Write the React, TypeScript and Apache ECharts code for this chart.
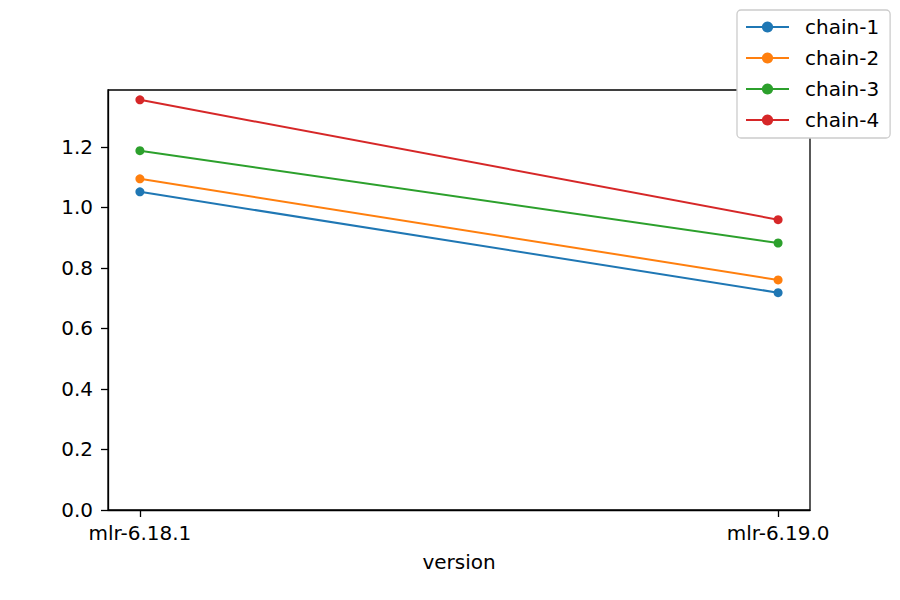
import React, { useEffect, useRef } from "react";
import * as echarts from "echarts";

const versions = ["mlr-6.18.1", "mlr-6.19.0"];
const chainNames = ["chain-1", "chain-2", "chain-3", "chain-4"];
const chain1 = [1.051, 0.718];
const chain2 = [1.094, 0.760];
const chain3 = [1.187, 0.882];
const chain4 = [1.355, 0.959];
const yTicks = [0, 0.2, 0.4, 0.6, 0.8, 1.0, 1.2];
const colors = ["#1f77b4", "#ff7f0e", "#2ca02c", "#d62728"];

const FONT = "DejaVu Sans";

const App: React.FC = () => {
  const chartRef = useRef<HTMLDivElement>(null);

  useEffect(() => {
    if (!chartRef.current) return;
    const chart = echarts.init(chartRef.current, undefined, { renderer: "svg" });

    const allSeries = [chain1, chain2, chain3, chain4];

    const option: echarts.EChartsOption = {
      animation: false,
      color: colors,
      textStyle: { fontFamily: FONT, color: "#000" },
      grid: {
        left: 108,
        right: 90,
        top: 90,
        bottom: 90,
        show: true,
        borderColor: "#000",
        borderWidth: 1.3,
        backgroundColor: "transparent",
      },
      legend: {
        orient: "vertical",
        left: 737,
        top: 10,
        data: chainNames,
        itemWidth: 43,
        itemHeight: 14,
        itemGap: 11,
        padding: [7, 11, 8, 8],
        backgroundColor: "#fff",
        borderColor: "#cccccc",
        borderWidth: 1.3,
        borderRadius: 4,
        textStyle: {
          fontFamily: FONT,
          fontSize: 20,
          color: "#000",
          lineHeight: 20,
          padding: [0, 0, 0, 11],
        },
      },
      xAxis: {
        type: "value",
        min: -0.05,
        max: 1.05,
        name: "version",
        nameLocation: "middle",
        nameGap: 42,
        nameTextStyle: { fontFamily: FONT, fontSize: 20, color: "#000" },
        splitLine: { show: false },
        axisLine: { onZero: false, lineStyle: { color: "#000", width: 1.3 } },
        axisTick: {
          inside: false,
          length: 7,
          lineStyle: { color: "#000", width: 1.3 },
          customValues: [0, 1],
        } as any,
        axisLabel: {
          margin: 13,
          fontFamily: FONT,
          fontSize: 20,
          color: "#000",
          customValues: [0, 1],
          formatter: (v: number) => versions[Math.round(v)] ?? "",
        } as any,
      },
      yAxis: {
        type: "value",
        min: 0,
        max: 1.3875,
        splitLine: { show: false },
        axisLine: { show: true, onZero: false, lineStyle: { color: "#000", width: 1.3 } },
        axisTick: {
          show: true,
          length: 7,
          lineStyle: { color: "#000", width: 1.3 },
          customValues: yTicks,
        } as any,
        axisLabel: {
          margin: 15,
          fontFamily: FONT,
          fontSize: 20,
          color: "#000",
          customValues: yTicks,
          formatter: (v: number) => v.toFixed(1),
        } as any,
      },
      series: allSeries.map((vals, i) => ({
        type: "line",
        name: chainNames[i],
        data: vals.map((v, j) => [j, v]),
        symbol: "circle",
        symbolSize: 9,
        lineStyle: { width: 2, color: colors[i] },
        itemStyle: { color: colors[i], borderWidth: 0 },
      })),
    };

    chart.setOption(option);
    return () => {
      chart.dispose();
    };
  }, []);

  return <div ref={chartRef} style={{ width: 900, height: 600, margin: -8 }} />;
};

export default App;
